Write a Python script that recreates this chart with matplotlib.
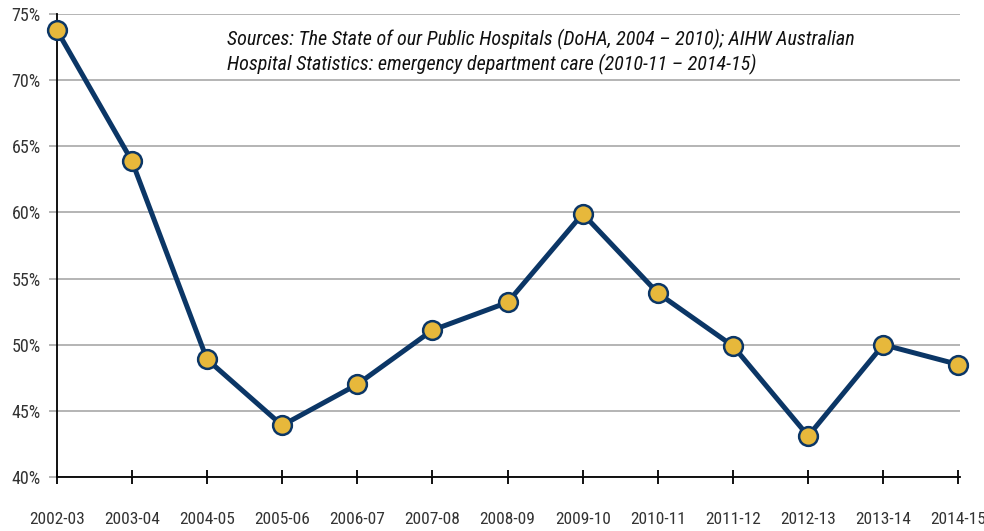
import matplotlib

matplotlib.use("Agg")
import matplotlib.pyplot as plt
from matplotlib.ticker import FuncFormatter

plt.rcParams["font.family"] = ["Roboto Condensed", "Liberation Sans", "DejaVu Sans"]

years = ["2002-03", "2003-04", "2004-05", "2005-06", "2006-07", "2007-08", "2008-09",
         "2009-10", "2010-11", "2011-12", "2012-13", "2013-14", "2014-15"]
pct = [73.8, 63.9, 48.9, 43.9, 47.0, 51.1, 53.2, 59.9, 53.9, 49.9, 43.1, 50.0, 48.5]
yticks = [40, 45, 50, 55, 60, 65, 70, 75]

NAVY = "#0b3666"
GOLD = "#e7b83b"
GRID = "#b4b4b4"
TEXT = "#333333"

fig = plt.figure(figsize=(9.84, 5.31), dpi=100)
ax = fig.add_axes([0.0576, 0.1017, 0.9180, 0.8719])

x = list(range(len(years)))
ax.plot(x, pct, "-", color=NAVY, linewidth=3.6, zorder=3)
ax.plot(x, pct, "o", markersize=13.5, markerfacecolor=GOLD, markeredgecolor=NAVY,
        markeredgewidth=1.8, zorder=4, clip_on=False)

ax.set_xlim(0, 12.02)
ax.set_ylim(40, 75)
ax.set_yticks(yticks)
ax.yaxis.set_major_formatter(FuncFormatter(lambda v, _: f"{v:.0f}%"))
ax.set_xticks(x)
ax.set_xticklabels(years)

ax.grid(axis="y", color=GRID, linewidth=1.4, zorder=1)
ax.set_axisbelow(True)
for s in ("top", "right"):
    ax.spines[s].set_visible(False)
for s in ("left", "bottom"):
    ax.spines[s].set_color("black")
    ax.spines[s].set_linewidth(1.3)
    ax.spines[s].set_zorder(2)

ax.tick_params(axis="y", length=5.5, width=1.4, color=GRID, pad=6,
               labelsize=13, labelcolor=TEXT)
ax.tick_params(axis="x", direction="inout", length=10, width=1.3, color="black",
               pad=20, labelsize=12.5, labelcolor=TEXT)
ax.get_yticklines()[0].set_color("black")

ax.text(0.189, 0.968,
        "Sources: The State of our Public Hospitals (DoHA, 2004 – 2010); AIHW Australian\n"
        "Hospital Statistics: emergency department care (2010-11 – 2014-15)",
        transform=ax.transAxes, ha="left", va="top", fontsize=14.5, style="italic",
        color="#111111", linespacing=1.22)

fig.savefig("out.png", dpi=100)
